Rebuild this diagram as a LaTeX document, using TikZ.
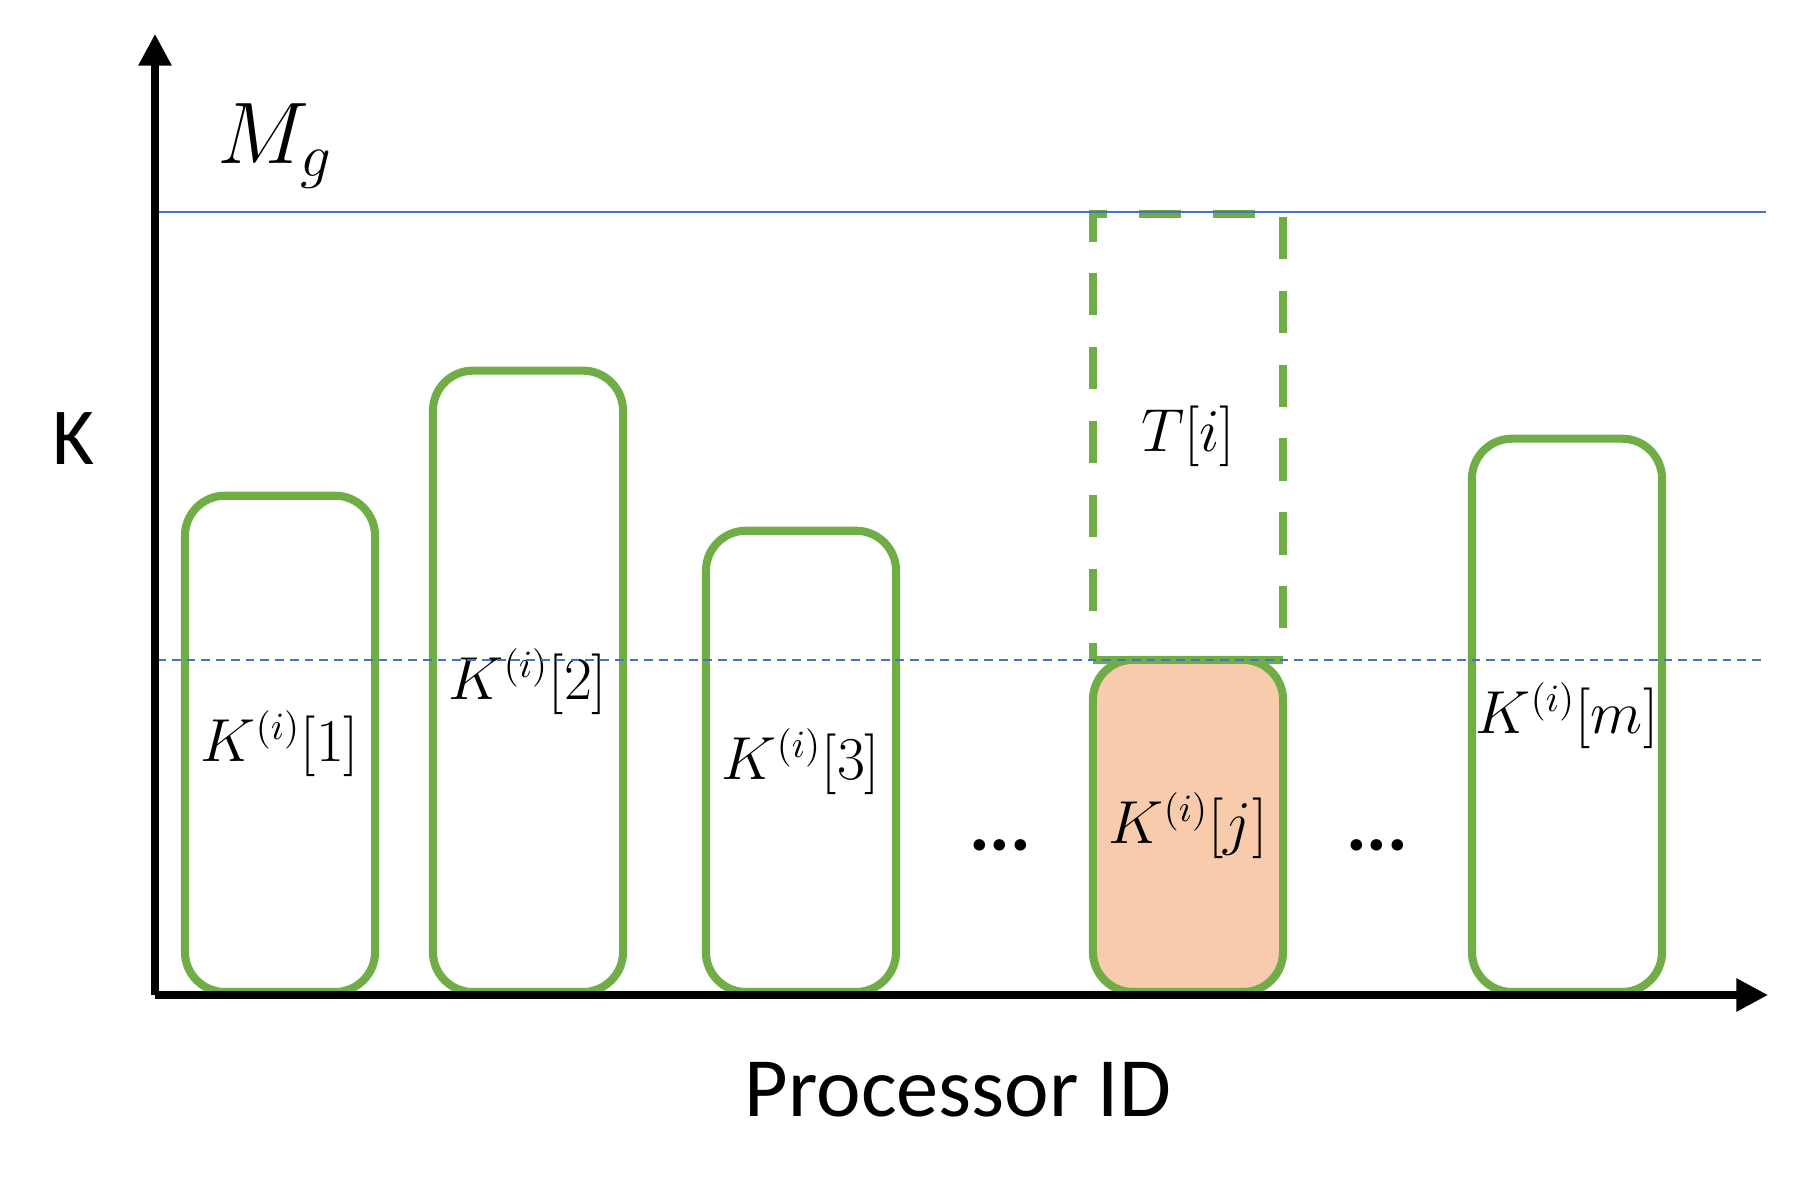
\documentclass[tikz,border=0pt]{standalone}
\usepackage{amsmath}
\usepackage{fontspec}
\setmainfont{Carlito}
\usetikzlibrary{arrows.meta,positioning}

\definecolor{barGreen}{HTML}{70AD47}
\definecolor{lineBlue}{HTML}{4472C4}
\definecolor{peach}{HTML}{F8CBAD}

\tikzset{
  procbox/.style={draw=barGreen, line width=2.3pt, rounded corners=0.4cm,
    minimum width=1.9cm, inner sep=0pt, outer sep=0pt, anchor=south,
    font=\fontsize{16}{18}\selectfont},
  axisline/.style={line width=2pt, -{Triangle[length=9pt,width=9pt]}},
  dots/.style={font=\fontsize{22}{26}\selectfont\bfseries},
}

\begin{document}
\begin{tikzpicture}[x=0.01cm, y=-0.01cm]
\useasboundingbox (0,0) rectangle (1796,1191);

\node[procbox, minimum height=4.96cm] (k1) at (280,992) {$K^{(i)}[1]$};
\node[procbox, minimum height=6.21cm] (k2) at (528,992) {$K^{(i)}[2]$};
\node[procbox, minimum height=4.61cm] (k3) at (801,992) {$K^{(i)}[3]$};
\node[procbox, minimum height=3.32cm, fill=peach] (kj) at (1188,992) {$K^{(i)}[j]$};
\node[procbox, minimum height=5.53cm] (km) at (1567,992) {$K^{(i)}[m]$};
\node[procbox, rounded corners=0pt, dash pattern=on 12pt off 9pt,
  minimum height=4.46cm] (ti) at (kj.north) {$T[i]$};

\node[dots] (d1) at (1000,845) {...};
\node[dots] (d2) at (1377,845) {...};

% levels
\coordinate (mgl) at (157,212);
\coordinate (mgr) at (1766,212);
\coordinate (avl) at (157,660);
\coordinate (avr) at (1766,660);
\draw[lineBlue, line width=0.5pt] (mgl) -- (mgr);
\draw[lineBlue, line width=0.5pt, dash pattern=on 2.5pt off 1.7pt] (avl) -- (avr);

% axes
\coordinate (o) at (155,995);
\coordinate (ytip) at (155,34);
\coordinate (xtip) at (1768,995);
\draw[axisline] (o) -- (ytip);
\draw[axisline] (o) -- (xtip);

\node[font=\fontsize{23}{26}\selectfont] (mg) at (275,146) {$M_g$};
\node[font=\fontsize{23}{26}\selectfont] (ylab) at (74,439) {K};
\node[font=\fontsize{24}{28}\selectfont] (xlab) at (958,1090) {Processor ID};
\end{tikzpicture}
\end{document}
